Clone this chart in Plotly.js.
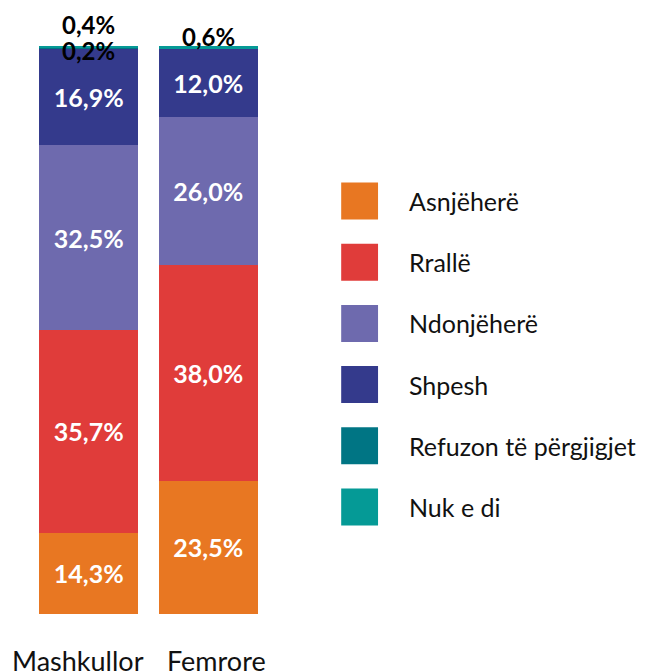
<!DOCTYPE html>
<html><head><meta charset="utf-8">
<script src="https://cdn.plot.ly/plotly-3.0.1.min.js"></script>
<style>body{margin:0;background:#fff}#c{width:651px;height:672px}</style>
</head><body><div id="c"></div>
<script>
const categories = ["Mashkullor", "Femrore"];
const seriesNames = ["Asnjëherë", "Rrallë", "Ndonjëherë", "Shpesh", "Refuzon të përgjigjet", "Nuk e di"];
const asnjehere = [14.3, 23.5];
const ralle = [35.7, 38.0];
const ndonjehere = [32.5, 26.0];
const shpesh = [16.9, 12.0];
const refuzon = [0.2, 0.0];
const nukEDi = [0.4, 0.6];
const colors = ["#E87722", "#E03C3A", "#6E6AAE", "#343A8C", "#007584", "#059A96"];

const series = [asnjehere, ralle, ndonjehere, shpesh, refuzon, nukEDi];
const FONT = "Lato, sans-serif";
const fmt = v => v.toFixed(1).replace('.', ',') + '%';
const SMALL = 5;

const traces = series.map((vals, i) => ({
  type: 'bar', x: categories, y: vals, name: seriesNames[i],
  marker: {color: colors[i], line: {width: 0}},
  text: vals.map(v => v >= SMALL ? fmt(v) : ''),
  textposition: 'inside', insidetextanchor: 'middle',
  textfont: {color: '#fff', size: 25, family: FONT, weight: 'bold'},
  hoverinfo: 'skip', showlegend: false
}));

const annotations = [];
// small-value labels near the top of each bar
categories.forEach((c, ci) => {
  let cum = 0;
  const smalls = [];
  series.forEach(vals => {
    cum += vals[ci];
    if (vals[ci] > 0 && vals[ci] < SMALL) smalls.push({v: vals[ci], top: cum});
  });
  smalls.forEach((s, k) => {
    const shift = smalls.length === 1 ? 9 : (k === 0 ? -2 : 21);
    annotations.push({x: c, y: s.top / 100, xref: 'x', yref: 'paper', text: fmt(s.v),
      showarrow: false, yanchor: 'middle', yshift: shift,
      font: {size: 24, color: '#000', family: FONT, weight: 'bold'}});
  });
});

// category labels under the bars
categories.forEach((c, ci) => {
  annotations.push({x: c, y: 0, xref: 'x', yref: 'paper', text: c, showarrow: false,
    xanchor: ci === 0 ? 'right' : 'left', xshift: ci === 0 ? 57 : -43,
    yanchor: 'middle', yshift: -46, font: {size: 27, color: '#111', family: FONT}});
});

// custom legend
const L = 28.5, W = 240, B = 614, H = 568;
const px2x = p => (p - L) / W, py2y = p => (B - p) / H;
const shapes = [];
seriesNames.forEach((n, i) => {
  const cy = 201 + i * 61.2;
  shapes.push({type: 'rect', xref: 'paper', yref: 'paper', x0: px2x(342), x1: px2x(379),
    y0: py2y(cy + 18.5), y1: py2y(cy - 18.5), fillcolor: colors[i], line: {width: 0}});
  annotations.push({xref: 'paper', yref: 'paper', x: px2x(408), y: py2y(cy), xanchor: 'left', yanchor: 'middle',
    text: n, showarrow: false, font: {size: 25, color: '#111', family: FONT}});
});

const layout = {
  width: 651, height: 672,
  margin: {l: L, r: 651 - L - W, t: 46, b: 672 - B},
  barmode: 'stack', bargap: 0.175,
  paper_bgcolor: '#fff', plot_bgcolor: '#fff',
  xaxis: {type: 'category', range: [-0.5, 1.5], showgrid: false, zeroline: false, showline: false,
    ticks: '', showticklabels: false},
  yaxis: {range: [0, 100], visible: false},
  showlegend: false,
  shapes: shapes, annotations: annotations
};
Plotly.newPlot('c', traces, layout, {staticPlot: true});
</script></body></html>
